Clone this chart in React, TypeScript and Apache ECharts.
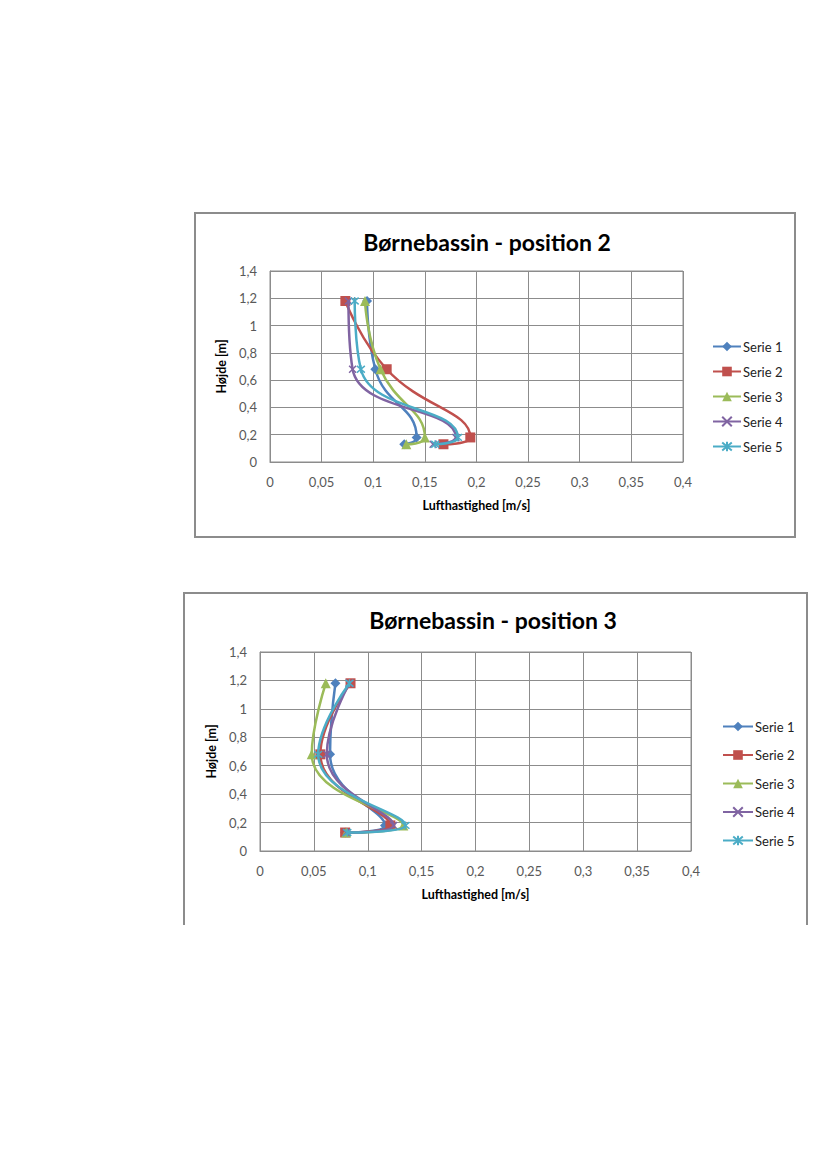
import React, { useEffect, useRef } from "react";
import * as echarts from "echarts";

const heights = [0.13, 0.18, 0.68, 1.18];
const seriesNames = ["Serie 1", "Serie 2", "Serie 3", "Serie 4", "Serie 5"];
const xTicks = ["0", "0,05", "0,1", "0,15", "0,2", "0,25", "0,3", "0,35", "0,4"];
const yTicks = ["0", "0,2", "0,4", "0,6", "0,8", "1", "1,2", "1,4"];

const pos2Serie1 = [0.13, 0.142, 0.102, 0.094];
const pos2Serie2 = [0.168, 0.194, 0.113, 0.073];
const pos2Serie3 = [0.132, 0.15, 0.107, 0.092];
const pos2Serie4 = [0.158, 0.18, 0.08, 0.076];
const pos2Serie5 = [0.16, 0.182, 0.088, 0.082];

const pos3Serie1 = [0.079, 0.116, 0.065, 0.07];
const pos3Serie2 = [0.079, 0.121, 0.056, 0.084];
const pos3Serie3 = [0.08, 0.133, 0.048, 0.061];
const pos3Serie4 = [0.08, 0.124, 0.062, 0.083];
const pos3Serie5 = [0.081, 0.135, 0.054, 0.083];

const colors = ["#4F81BD", "#C0504D", "#9BBB59", "#8064A2", "#4BACC6"];
const symbols = [
  "diamond",
  "rect",
  "triangle",
  "path://M0,0L10,10M10,0L0,10",
  "path://M0,0L10,10M10,0L0,10M5,-1L5,11",
];
const symbolSizes = [10, 10, 10, 7, 8];

const FONT = "Lato, 'Open Sans', sans-serif";

type Cfg = {
  title: string;
  values: number[][];
  width: number;
  height: number;
  grid: { left: number; top: number; width: number; height: number };
  titleX: number;
  titleY: number;
  legendLeft: number;
  legendTop: number;
  legendGap: number;
  legendItemWidth: number;
};

function buildOption(cfg: Cfg) {
  return {
    animation: false,
    backgroundColor: "#ffffff",
    graphic: [
      {
        type: "text",
        x: cfg.titleX,
        y: cfg.titleY,
        style: {
          text: cfg.title,
          fontFamily: FONT,
          fontWeight: "bold",
          fontSize: 23,
          fill: "#000",
          align: "center",
          verticalAlign: "middle",
        },
      },
    ],
    grid: { ...cfg.grid, containLabel: false, show: true, borderColor: "#8c8c8c", borderWidth: 1 },
    legend: {
      orient: "vertical",
      left: cfg.legendLeft,
      top: cfg.legendTop,
      itemGap: cfg.legendGap,
      itemWidth: cfg.legendItemWidth,
      itemHeight: 12,
      textStyle: { fontFamily: FONT, fontSize: 13, color: "#222", padding: [0, 0, 0, -3] },
      data: seriesNames,
    },
    xAxis: {
      type: "value",
      min: 0,
      max: 0.4,
      interval: 0.05,
      name: "Lufthastighed [m/s]",
      nameLocation: "middle",
      nameGap: 37,
      nameTextStyle: { fontFamily: FONT, fontWeight: "bold", fontSize: 12.5, color: "#000" },
      axisLine: { show: true, lineStyle: { color: "#8c8c8c" } },
      axisTick: { show: false },
      axisLabel: {
        margin: 13,
        fontFamily: FONT,
        fontSize: 13,
        color: "#595959",
        formatter: (v: number) => xTicks[Math.round(v / 0.05)] ?? "",
      },
      splitLine: { show: true, lineStyle: { color: "#8c8c8c", width: 1 } },
    },
    yAxis: {
      type: "value",
      min: 0,
      max: 1.4,
      interval: 0.2,
      name: "Højde [m]",
      nameLocation: "middle",
      nameGap: 40,
      nameTextStyle: { fontFamily: FONT, fontWeight: "bold", fontSize: 12.5, color: "#000" },
      axisLine: { show: true, lineStyle: { color: "#8c8c8c" } },
      axisTick: { show: false },
      axisLabel: {
        margin: 13,
        fontFamily: FONT,
        fontSize: 13,
        color: "#595959",
        formatter: (v: number) => yTicks[Math.round(v / 0.2)] ?? "",
      },
      splitLine: { show: true, lineStyle: { color: "#8c8c8c", width: 1 } },
    },
    series: cfg.values.map((vals, i) => ({
      name: seriesNames[i],
      type: "line",
      smooth: 0.5,
      data: vals.map((x, j) => [x, heights[j]]),
      symbol: symbols[i],
      symbolSize: symbolSizes[i],
      showSymbol: true,
      color: colors[i],
      lineStyle: { color: colors[i], width: 2.5 },
      itemStyle: {
        color: colors[i],
        borderColor: colors[i],
        borderWidth: i >= 3 ? 1.5 : 0,
      },
      z: 2 + i,
    })),
  };
}

function Chart({ cfg }: { cfg: Cfg }) {
  const ref = useRef<HTMLDivElement>(null);
  useEffect(() => {
    if (!ref.current) return;
    const chart = echarts.init(ref.current, undefined, { renderer: "svg" });
    chart.setOption(buildOption(cfg));
    return () => chart.dispose();
  }, [cfg]);
  return <div ref={ref} style={{ width: cfg.width, height: cfg.height }} />;
}

const cfg2: Cfg = {
  title: "Børnebassin - position 2",
  values: [pos2Serie1, pos2Serie2, pos2Serie3, pos2Serie4, pos2Serie5],
  width: 598,
  height: 322,
  grid: { left: 74, top: 57, width: 413, height: 191 },
  titleX: 291,
  titleY: 28,
  legendLeft: 511,
  legendTop: 121,
  legendGap: 12,
  legendItemWidth: 28,
};

const cfg3: Cfg = {
  title: "Børnebassin - position 3",
  values: [pos3Serie1, pos3Serie2, pos3Serie3, pos3Serie4, pos3Serie5],
  width: 621,
  height: 331,
  grid: { left: 75, top: 58, width: 431, height: 199 },
  titleX: 308,
  titleY: 26,
  legendLeft: 532,
  legendTop: 121,
  legendGap: 15.5,
  legendItemWidth: 30,
};

export default function App() {
  return (
    <div style={{ position: "absolute", left: 0, top: 0, width: 827, height: 1169, background: "#fff" }}>
      <div style={{ position: "absolute", left: 194, top: 212, border: "2px solid #8c8c8c" }}>
        <Chart cfg={cfg2} />
      </div>
      <div style={{ position: "absolute", left: 183, top: 592, border: "2px solid #8c8c8c", borderBottom: "none" }}>
        <Chart cfg={cfg3} />
      </div>
    </div>
  );
}
